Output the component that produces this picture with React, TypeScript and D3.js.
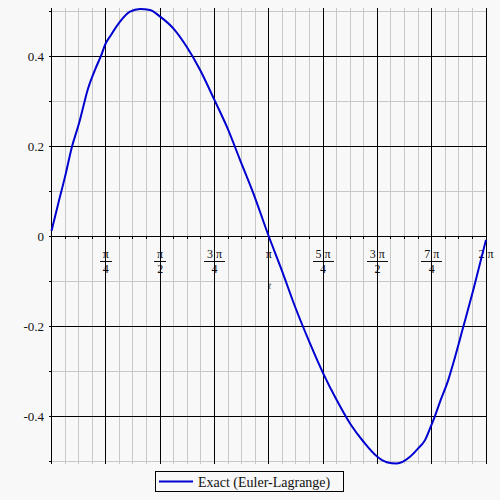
import React from "react";
import * as d3 from "d3";

// Curve samples: t (radians) and value
const tValues = [0, 0.098, 0.195, 0.296, 0.398, 0.484, 0.509, 0.629, 0.711, 0.785, 0.846, 0.991, 1.135, 1.28, 1.424, 1.571, 1.761, 1.955, 2.147, 2.356, 2.534, 2.726, 2.918, 3.1416, 3.329, 3.521, 3.738, 3.927, 4.124, 4.317, 4.509, 4.712, 4.847, 4.992, 5.184, 5.304, 5.401, 5.474, 5.546, 5.618, 5.738, 5.81, 5.955, 6.1, 6.283];
const yValues = [0.012, 0.073, 0.132, 0.199, 0.251, 0.303, 0.318, 0.37, 0.399, 0.429, 0.444, 0.477, 0.499, 0.505, 0.503, 0.488, 0.462, 0.421, 0.37, 0.303, 0.244, 0.17, 0.096, 0, -0.075, -0.156, -0.238, -0.304, -0.364, -0.416, -0.456, -0.49, -0.502, -0.505, -0.49, -0.471, -0.453, -0.427, -0.399, -0.368, -0.319, -0.282, -0.201, -0.119, -0.008];

const yTickValues = [0.4, 0.2, 0, -0.2, -0.4];
const yTickLabels = ["0.4", "0.2", "0", "-0.2", "-0.4"];
const xTickNumerators = ["π", "π", "3 π", "π", "5 π", "3 π", "7 π", "2 π"];
const xTickDenominators = ["4", "2", "4", "", "4", "2", "4", ""];
const legendLabel = "Exact (Euler-Lagrange)";
const axisLabel = "t";

const W = 500, H = 500;
const x = d3.scaleLinear().domain([0, 2 * Math.PI]).range([51.5, 486]);
const y = d3.scaleLinear().domain([-0.506, 0.505]).range([464, 9]);

const BG = "#f8f8f8";
const MINOR = "#c8c8c8";
const BLUE = "#0000d0";
const TXT = "#111";

export default function App() {
  const pts: [number, number][] = tValues.map((t, i) => [t, yValues[i]]);
  const line = d3.line<[number, number]>().x(d => x(d[0])).y(d => y(d[1])).curve(d3.curveMonotoneX);

  const vGrid = d3.range(0, 33).map(k => ({ v: (k * Math.PI) / 16, major: k % 4 === 0 }));
  const hGrid = d3.range(-5, 6).map(k => ({ v: k / 10, major: k % 2 === 0 }));
  const y0 = y(0);
  const top = y.range()[1];
  const bottom = y.range()[0];
  const left = x.range()[0];
  const right = x.range()[1];

  return (
    <svg width={W} height={H} style={{ position: "absolute", left: 0, top: 0, display: "block" }} fontFamily="'Liberation Serif', 'Times New Roman', serif">
      <rect x={0} y={0} width={W} height={H} fill={BG} />
      {/* tick labels */}
      {yTickValues.map((v, i) => (
        <text key={"yl" + i} x={44} y={y(v) + 4.5} fontSize={13} textAnchor="end" fill={TXT}>{yTickLabels[i]}</text>
      ))}
      {xTickNumerators.map((num, i) => {
        const cx = x(((i + 1) * Math.PI) / 4);
        const den = xTickDenominators[i];
        const bw = num.length > 1 ? 10.5 : 6;
        return (
          <g key={"xl" + i}>
            <text x={cx} y={y0 + 21.5} fontSize={12} textAnchor="middle" fill={TXT}>{num}</text>
            {den && <line x1={cx - bw} x2={cx + bw} y1={y0 + 25} y2={y0 + 25} stroke={TXT} strokeWidth={1} shapeRendering="crispEdges" />}
            {den && <text x={cx} y={y0 + 37} fontSize={12} textAnchor="middle" fill={TXT}>{den}</text>}
          </g>
        );
      })}
      <text x={x(Math.PI) + 1} y={y0 + 53} fontSize={11} fontStyle="italic" textAnchor="middle" fill="#666">{axisLabel}</text>
      {/* minor grid */}
      {vGrid.filter(g => !g.major).map((g, i) => (
        <line key={"vm" + i} x1={x(g.v)} x2={x(g.v)} y1={top - 1} y2={bottom} stroke={MINOR} strokeWidth={1} shapeRendering="crispEdges" />
      ))}
      {hGrid.filter(g => !g.major).map((g, i) => (
        <line key={"hm" + i} x1={left} x2={right} y1={y(g.v)} y2={y(g.v)} stroke={MINOR} strokeWidth={1} shapeRendering="crispEdges" />
      ))}
      {/* major grid */}
      {vGrid.filter(g => g.major).map((g, i) => (
        <line key={"vM" + i} x1={x(g.v)} x2={x(g.v)} y1={top - 1} y2={bottom} stroke="#000" strokeWidth={1} shapeRendering="crispEdges" />
      ))}
      {hGrid.filter(g => g.major).map((g, i) => (
        <line key={"hM" + i} x1={left} x2={right} y1={y(g.v)} y2={y(g.v)} stroke="#000" strokeWidth={1} shapeRendering="crispEdges" />
      ))}
      {/* axis ticks */}
      {hGrid.map((g, i) => (
        <line key={"yt" + i} x1={left - 3} x2={left} y1={y(g.v)} y2={y(g.v)} stroke="#000" strokeWidth={1} shapeRendering="crispEdges" />
      ))}
      {vGrid.map((g, i) => (
        <line key={"xt" + i} x1={x(g.v)} x2={x(g.v)} y1={y0} y2={y0 + 3} stroke="#000" strokeWidth={1} shapeRendering="crispEdges" />
      ))}
      {/* curve */}
      <path d={line(pts) || ""} fill="none" stroke={BLUE} strokeWidth={2} strokeLinejoin="round" />
      {/* legend */}
      <rect x={155.5} y={471.5} width={188} height={20} fill="none" stroke="#000" strokeWidth={1} />
      <line x1={159} x2={193} y1={481.5} y2={481.5} stroke={BLUE} strokeWidth={2} />
      <text x={198} y={486.5} fontSize={14} fill={TXT}>{legendLabel}</text>
    </svg>
  );
}
